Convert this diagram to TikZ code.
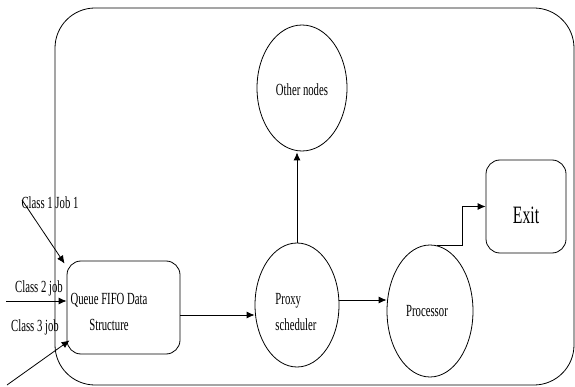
\documentclass[tikz,border=0pt]{standalone}
\usepackage{fontspec}
\setmainfont{Liberation Serif}[FakeStretch=0.63]
\usetikzlibrary{arrows.meta,shapes.geometric}
\begin{document}
\begin{tikzpicture}[x=1pt,y=-1pt,
  line width=0.8pt,
  every node/.style={font=\fontsize{17}{26}\selectfont},
  arr/.style={-{Latex[length=8pt,width=7pt]}},
  circ/.style={draw,ellipse,inner sep=0pt},
  rbox/.style={draw,rectangle,rounded corners=14pt,inner sep=0pt},
  lbl/.style={inner sep=0pt,align=left}]
\useasboundingbox (0,0) rectangle (575,387);
% outer frame
\draw[rounded corners=40pt] (55,8) rectangle (574,385);
% nodes
\node[rbox,minimum width=113pt,minimum height=93pt] (queue) at (123.5,307.5) {};
\node[lbl,align=center] (qtext) at (109,312) {Queue FIFO Data\\Structure};
\node[circ,minimum width=84pt,minimum height=124pt] (proxy) at (297,305) {};
\node[lbl] (ptext) at (296,312) {Proxy\\scheduler};
\node[circ,minimum width=86pt,minimum height=132pt] (proc) at (430,311) {};
\node[lbl] (prtext) at (427,311) {Processor};
\node[circ,minimum width=90pt,minimum height=126pt] (other) at (302,88) {};
\node[lbl] (otext) at (302,90) {Other nodes};
\node[rbox,minimum width=80pt,minimum height=93pt] (exit) at (526,206.5) {};
\node[lbl,font=\fontsize{25}{30}\selectfont] (etext) at (526,215) {Exit};
% inputs
\coordinate (c1) at (22,200);
\coordinate (c2) at (6,301);
\coordinate (c3) at (7,385);
\node[lbl] (l1) at (50,203) {Class 1 Job 1};
\node[lbl] (l2) at (39,288) {Class 2 job};
\node[lbl] (l3) at (35,327) {Class 3 job};
\draw[arr] (c1) -- ([xshift=-2pt,yshift=-3pt]queue.north west);
\draw[arr] (c2) -- (queue.west |- c2);
\draw[arr] (c3) -- ([xshift=3pt,yshift=14pt]queue.south west);
% connectors
\coordinate (qa) at (180,315);
\draw[arr] (qa) -- (proxy.west |- qa);
\coordinate (pa) at (339,300);
\draw[arr] (pa) -- (proc.west |- pa);
\draw[arr] (proxy.north) -- ([yshift=-1pt]proxy.north |- other.south);
\draw[arr] ([xshift=7pt,yshift=-1pt]proc.north) -- ++(25,0) |- (exit.west);
\end{tikzpicture}
\end{document}
